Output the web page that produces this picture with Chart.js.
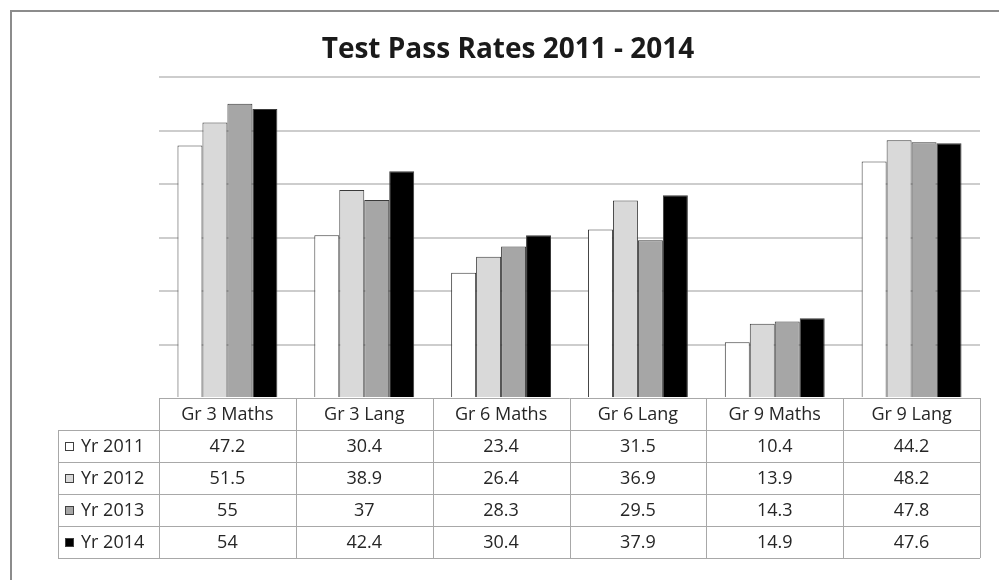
<!DOCTYPE html>
<html>
<head>
<meta charset="utf-8">
<script src="https://cdn.jsdelivr.net/npm/chart.js@4.4.1/dist/chart.umd.min.js"></script>
<style>
  html, body { margin: 0; padding: 0; background: #fff; }
  #wrap { width: 999px; height: 580px; position: relative; }
</style>
</head>
<body>
<div id="wrap"><canvas id="chart"></canvas></div>
<script>
const chartTitle = 'Test Pass Rates 2011 - 2014';
const categories = ['Gr 3 Maths', 'Gr 3 Lang', 'Gr 6 Maths', 'Gr 6 Lang', 'Gr 9 Maths', 'Gr 9 Lang'];
const seriesNames = ['Yr 2011', 'Yr 2012', 'Yr 2013', 'Yr 2014'];
const yr2011 = [47.2, 30.4, 23.4, 31.5, 10.4, 44.2];
const yr2012 = [51.5, 38.9, 26.4, 36.9, 13.9, 48.2];
const yr2013 = [55, 37, 28.3, 29.5, 14.3, 47.8];
const yr2014 = [54, 42.4, 30.4, 37.9, 14.9, 47.6];

const seriesValues = [yr2011, yr2012, yr2013, yr2014];
const fills = ['#ffffff', '#d9d9d9', '#a6a6a6', '#000000'];

const FONT = '"Open Sans", "DejaVu Sans", sans-serif';
const ROW_H = 32;

// frame and title, drawn before the bars
const framePlugin = {
    id: 'frame',
    beforeDraw(chart) {
        const ctx = chart.ctx;
        ctx.save();
        ctx.strokeStyle = '#8c8c8c';
        ctx.lineWidth = 2;
        ctx.beginPath();
        ctx.moveTo(11, chart.height);
        ctx.lineTo(11, 11);
        ctx.lineTo(chart.width, 11);
        ctx.stroke();

        ctx.fillStyle = '#1a1a1a';
        ctx.font = 'bold 28px ' + FONT;
        ctx.textAlign = 'center';
        ctx.textBaseline = 'alphabetic';
        ctx.fillText(chartTitle, 508, 58);
        ctx.restore();
    }
};

// data table under the plot area
const tablePlugin = {
    id: 'dataTable',
    afterDraw(chart) {
        const ctx = chart.ctx;
        const x = chart.scales.x;
        const area = chart.chartArea;
        const colW = (area.right - area.left) / categories.length;
        const top = area.bottom;
        const legendLeft = 58;
        const nRows = seriesNames.length;
        const bottom = top + ROW_H * (nRows + 1);

        ctx.save();
        ctx.strokeStyle = '#a8a8a8';
        ctx.lineWidth = 1;
        ctx.beginPath();
        // header top line
        ctx.moveTo(area.left, top + 0.5);
        ctx.lineTo(area.right, top + 0.5);
        // row lines
        for (let r = 1; r <= nRows + 1; r++) {
            const yy = Math.round(top + r * ROW_H) + 0.5;
            ctx.moveTo(legendLeft, yy);
            ctx.lineTo(area.right, yy);
        }
        // column lines
        for (let i = 0; i <= categories.length; i++) {
            const xx = Math.round(x.getPixelForValue(i) - colW / 2) + 0.5;
            ctx.moveTo(xx, top);
            ctx.lineTo(xx, bottom);
        }
        ctx.moveTo(legendLeft + 0.5, top + ROW_H);
        ctx.lineTo(legendLeft + 0.5, bottom);
        ctx.stroke();

        ctx.font = '18px ' + FONT;
        ctx.fillStyle = '#262626';
        ctx.textAlign = 'center';
        ctx.textBaseline = 'middle';
        categories.forEach((c, i) => {
            ctx.fillText(c, x.getPixelForValue(i), top + ROW_H / 2 + 1);
        });

        seriesNames.forEach((name, r) => {
            const cy = top + ROW_H * (r + 1) + ROW_H / 2 + 1;
            // legend swatch
            ctx.fillStyle = fills[r];
            ctx.fillRect(65, cy - 5, 9, 9);
            ctx.strokeStyle = '#404040';
            ctx.strokeRect(65.5, cy - 4.5, 8, 8);
            ctx.fillStyle = '#262626';
            ctx.textAlign = 'left';
            ctx.fillText(name, 81, cy);
            ctx.textAlign = 'center';
            seriesValues[r].forEach((v, i) => {
                ctx.fillText(String(v), x.getPixelForValue(i), cy);
            });
        });
        ctx.restore();
    }
};

const ctx = document.getElementById('chart').getContext('2d');
new Chart(ctx, {
    type: 'bar',
    data: {
        labels: categories,
        datasets: seriesNames.map((name, i) => ({
            label: name,
            data: seriesValues[i],
            backgroundColor: fills[i],
            borderColor: '#3a3a3a',
            borderWidth: 1,
            borderSkipped: 'bottom',
            categoryPercentage: 0.73,
            barPercentage: 1.0
        }))
    },
    options: {
        responsive: true,
        maintainAspectRatio: false,
        devicePixelRatio: 1,
        animation: false,
        layout: {
            padding: { left: 159, right: 19, top: 77, bottom: 182 }
        },
        plugins: {
            legend: { display: false },
            title: { display: false },
            tooltip: { enabled: false }
        },
        scales: {
            x: {
                display: false
            },
            y: {
                min: 0,
                max: 60,
                ticks: { display: false, stepSize: 10 },
                border: { display: false },
                grid: {
                    drawTicks: false,
                    color: (c) => c.tick && c.tick.value === 0 ? 'rgba(0,0,0,0)' : '#cdcdcd',
                    lineWidth: 2
                }
            }
        }
    },
    plugins: [framePlugin, tablePlugin]
});
</script>
</body>
</html>
